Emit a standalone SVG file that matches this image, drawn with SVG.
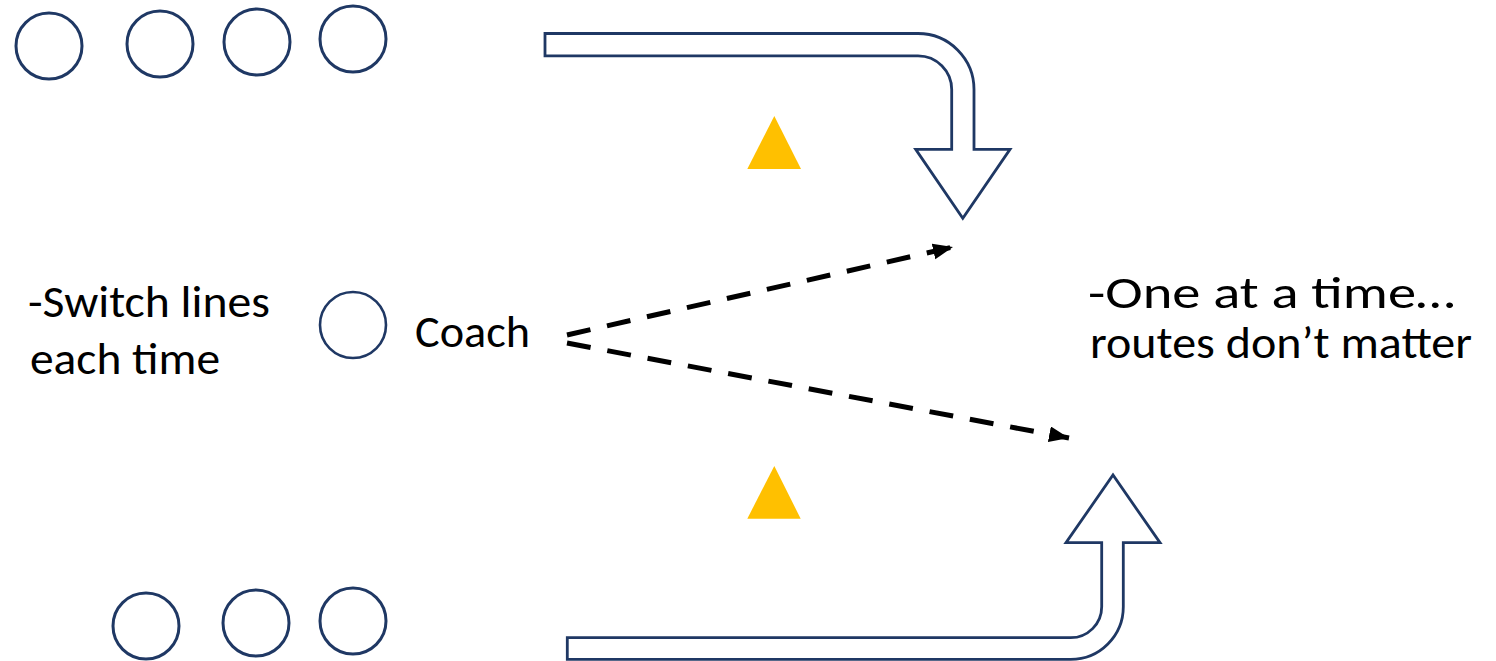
<svg xmlns="http://www.w3.org/2000/svg" width="1496" height="661" viewBox="0 0 1496 661">
  <style>
    .player { fill: #ffffff; stroke: #1f3864; stroke-width: 3; }
    .bigarrow { fill: #ffffff; stroke: #1f3864; stroke-width: 2.8; stroke-linejoin: miter; }
    .cone { fill: #ffc000; stroke: none; }
    .route { fill: none; stroke: #000000; stroke-width: 5; stroke-dasharray: 24 17; }
    .label { font-family: Carlito, Calibri, Lato, "Liberation Sans", sans-serif; font-size: 45px; fill: #000000; }
  </style>
  <defs>
    <marker id="head" markerUnits="userSpaceOnUse" markerWidth="22" markerHeight="18" refX="20" refY="8" orient="auto">
      <path d="M0,0 L20,8 L0,16 Z" fill="#000000"/>
    </marker>
  </defs>
  <rect width="1496" height="661" fill="#ffffff"/>

  <g id="top-line">
    <circle class="player" cx="49" cy="46" r="33"/>
    <circle class="player" cx="160" cy="44" r="33"/>
    <circle class="player" cx="257" cy="42" r="33"/>
    <circle class="player" cx="353" cy="39" r="33"/>
  </g>

  <g id="bottom-line">
    <circle class="player" cx="146" cy="626" r="33"/>
    <circle class="player" cx="256" cy="623" r="33"/>
    <circle class="player" cx="353" cy="621" r="33"/>
  </g>

  <g id="coach">
    <circle class="player" cx="353" cy="325" r="33" style="stroke-width:2.6"/>
    <text class="label" x="415" y="347" textLength="115" lengthAdjust="spacingAndGlyphs">Coach</text>
  </g>

  <g id="note-left">
    <text class="label" x="28" y="317" textLength="242" lengthAdjust="spacingAndGlyphs">-Switch lines</text>
    <text class="label" x="30" y="374" textLength="190" lengthAdjust="spacingAndGlyphs">each time</text>
  </g>

  <g id="note-right">
    <text class="label" x="1088" y="308" textLength="367" lengthAdjust="spacingAndGlyphs">-One at a time…</text>
    <text class="label" x="1090" y="358" textLength="382" lengthAdjust="spacingAndGlyphs">routes don’t matter</text>
  </g>

  <g id="cone-top">
    <polygon class="cone" points="774.3,116 747.3,169 801,169"/>
  </g>
  <g id="cone-bottom">
    <polygon class="cone" points="774.3,466 747.3,518.7 800.7,518.7"/>
  </g>

  <g id="arrow-top">
    <path class="bigarrow" d="M545,33.5 H918 A56,56 0 0 1 974,89.5 V149.3 H1010 L962.8,218.3 L915.7,149.3 H951.7 V89.5 A33.7,33.7 0 0 0 918,55.8 H545 Z"/>
  </g>
  <g id="arrow-bottom">
    <path class="bigarrow" d="M567.3,637.7 H1070.7 A31,31 0 0 0 1101.7,606.7 V542.7 H1066 L1113,475 L1160,542.7 H1123.3 V606.7 A52.6,52.6 0 0 1 1070.7,659.3 H567.3 Z"/>
  </g>

  <g id="connectors">
    <line class="route" x1="567" y1="335" x2="953" y2="247" marker-end="url(#head)"/>
    <line class="route" x1="567" y1="343" x2="1069" y2="438" marker-end="url(#head)"/>
  </g>
</svg>
